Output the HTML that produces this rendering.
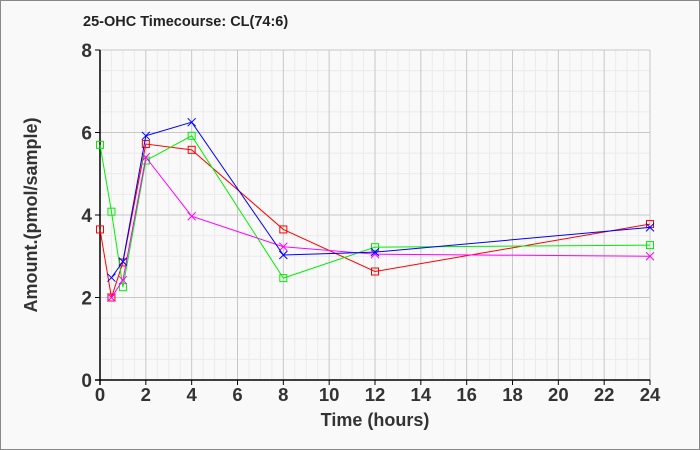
<!DOCTYPE html>
<html><head><style>
html,body{margin:0;padding:0;background:#fff}
svg{display:block}
text{font-family:"Liberation Sans",sans-serif}
</style></head><body>
<svg width="700" height="450" xmlns="http://www.w3.org/2000/svg">
<rect x="0.5" y="0.5" width="699" height="449" fill="#f9f9f9" stroke="#888"/>
<text x="83" y="26" font-size="14.5" font-weight="bold" fill="#222">25-OHC Timecourse: CL(74:6)</text>
<g id="grid"></g>
<g id="data"></g>
<text x="375" y="426" font-size="18" font-weight="bold" text-anchor="middle" fill="#333">Time (hours)</text>
<text transform="translate(37,215) rotate(-90)" font-size="18" font-weight="bold" text-anchor="middle" fill="#333">Amount.(pmol/sample)</text>
</svg>
<script>
const ns="http://www.w3.org/2000/svg";
const L=100,R=650,T=50,B=380;
const X=h=>L+(R-L)*h/24, Y=v=>B-(B-T)*v/8;
function el(n,a,p){const e=document.createElementNS(ns,n);for(const k in a)e.setAttribute(k,a[k]);(p||document.getElementById('grid')).appendChild(e);return e;}
for(let h=0.5;h<=24;h+=0.5){if(h%2) el('line',{x1:X(h),x2:X(h),y1:T,y2:B,stroke:'#ebebeb'});}
for(let v=0.5;v<=8;v+=0.5){if(v%2) el('line',{x1:L,x2:R,y1:Y(v),y2:Y(v),stroke:'#ebebeb'});}
for(let h=2;h<=24;h+=2) el('line',{x1:X(h),x2:X(h),y1:T,y2:B,stroke:'#c8c8c8'});
for(let v=2;v<=8;v+=2) el('line',{x1:L,x2:R,y1:Y(v),y2:Y(v),stroke:'#c8c8c8'});
el('line',{x1:L,x2:L,y1:T,y2:B+5,stroke:'#000','stroke-width':1.5});
el('line',{x1:L-5,x2:R,y1:B,y2:B,stroke:'#000','stroke-width':1.5});
el('line',{x1:L-5,x2:L,y1:T,y2:T,stroke:'#000'});
for(let h=0;h<=24;h+=2){el('line',{x1:X(h),x2:X(h),y1:B,y2:B+5,stroke:'#000'});const t=el('text',{x:X(h),y:B+21,'font-size':18.5,'font-weight':'bold','text-anchor':'middle',fill:'#333'});t.textContent=h;}
for(let v=0;v<=8;v+=2){el('line',{x1:L-5,x2:L,y1:Y(v),y2:Y(v),stroke:'#000'});const t=el('text',{x:L-8,y:Y(v)+7,'font-size':19,'font-weight':'bold','text-anchor':'end',fill:'#333'});t.textContent=v;}
const g=document.getElementById('data');
const S=[
['#f00','sq',[[0,3.65],[0.5,2.0],[1,2.85],[2,5.72],[4,5.58],[8,3.65],[12,2.63],[24,3.78]]],
['#0e0','sq',[[0,5.7],[0.5,4.08],[1,2.25],[2,5.32],[4,5.92],[8,2.47],[12,3.22],[24,3.27]]],
['#f0f','x',[[0.5,2.0],[1,2.42],[2,5.4],[4,3.97],[8,3.23],[12,3.05],[24,3.0]]],
['#00f','x',[[0.5,2.48],[1,2.87],[2,5.92],[4,6.25],[8,3.03],[12,3.1],[24,3.7]]]];
for(const [c,m,p] of S){
 el('polyline',{points:p.map(q=>X(q[0])+','+Y(q[1])).join(' '),fill:'none',stroke:c,'stroke-width':1},g);
 for(const q of p){const x=X(q[0]),y=Y(q[1]);
  if(m=='sq') el('rect',{x:x-3.5,y:y-3.5,width:7,height:7,fill:'none',stroke:c},g);
  else el('path',{d:`M${x-4},${y-4}L${x+4},${y+4}M${x-4},${y+4}L${x+4},${y-4}`,stroke:c},g);}
}
</script>
</body></html>
